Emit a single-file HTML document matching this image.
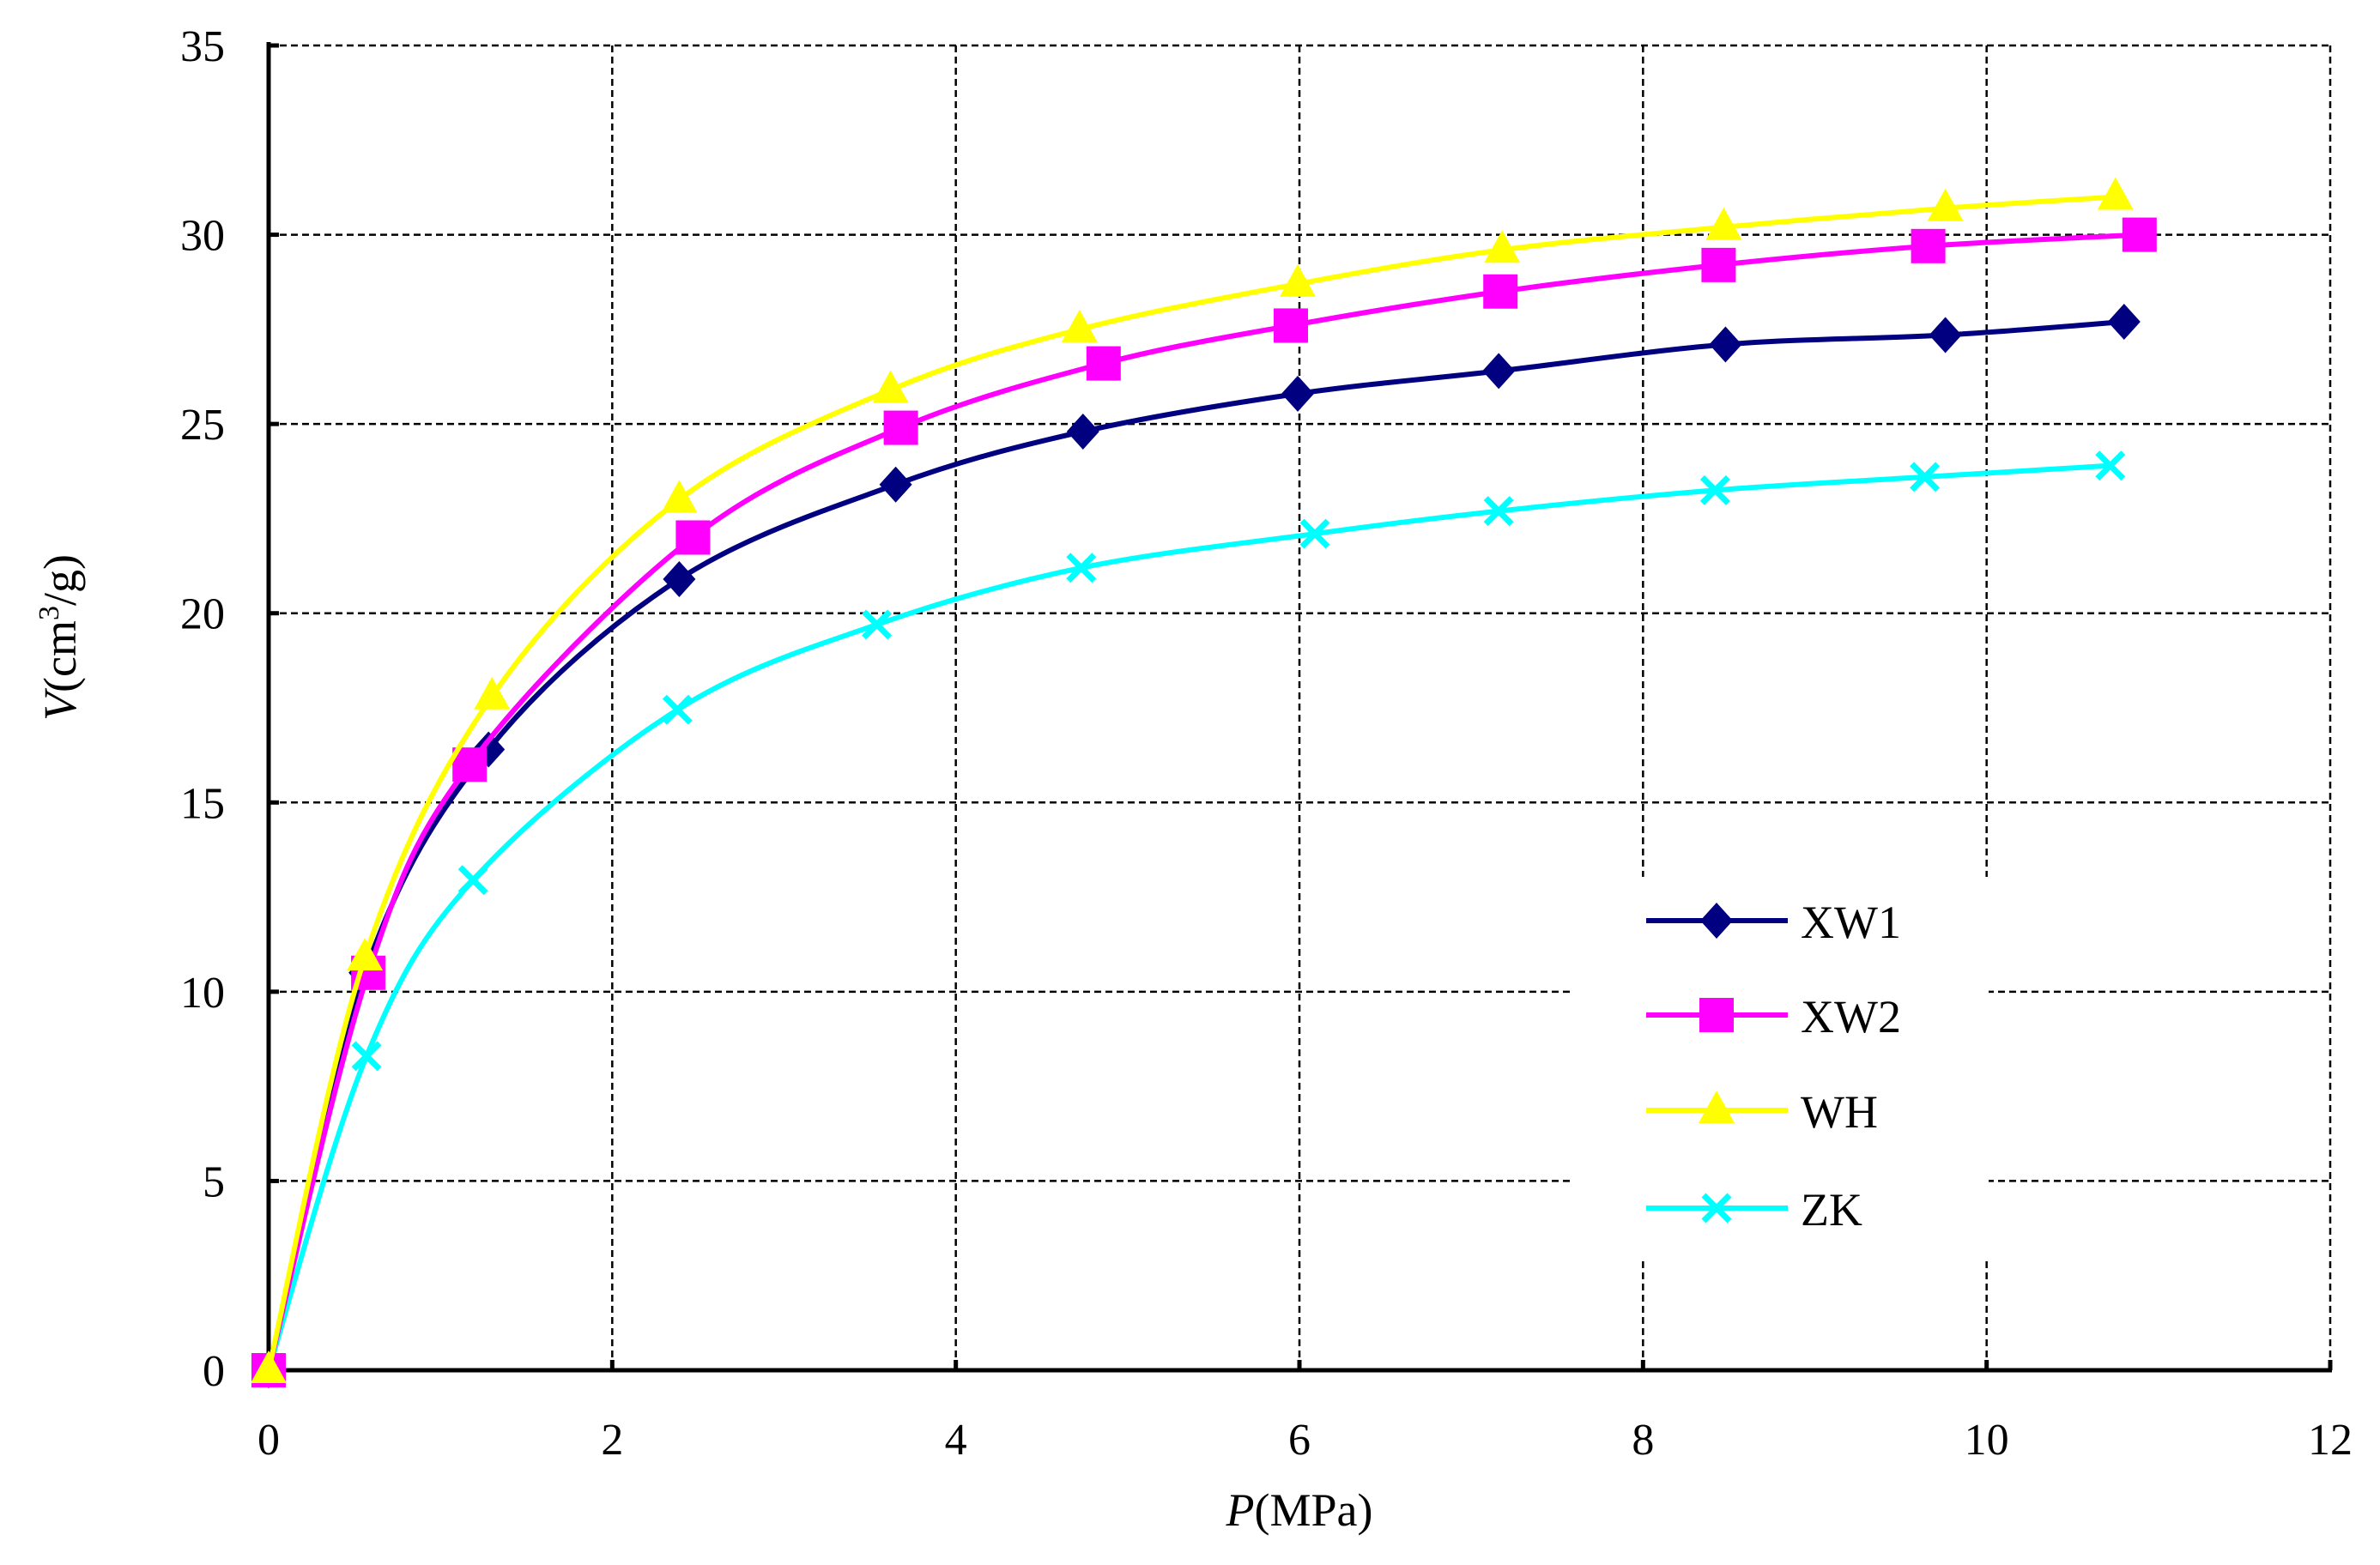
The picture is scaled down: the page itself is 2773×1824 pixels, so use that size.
<!DOCTYPE html>
<html><head><meta charset="utf-8"><style>
html,body{margin:0;padding:0;background:#fff}
svg{display:block}
text{font-family:"Liberation Serif",serif;fill:#000}
</style></head><body>
<svg id="chart" width="2773" height="1824" viewBox="0 0 2773 1824" xmlns="http://www.w3.org/2000/svg"></svg>
<script>
const xTicks=[0,2,4,6,8,10,12];
const yTicks=[0,5,10,15,20,25,30,35];
const seriesNames=["XW1","XW2","WH","ZK"];
const seriesColors=["#000080","#ff00ff","#ffff00","#00ffff"];
const xw1P=[0,0.56,1.28,2.39,3.65,4.74,5.99,7.16,8.48,9.76,10.8];
const xw1V=[0,10.5,16.4,20.9,23.4,24.8,25.8,26.4,27.1,27.35,27.7];
const xw2P=[0,0.58,1.17,2.47,3.68,4.86,5.95,7.17,8.44,9.66,10.89];
const xw2V=[0,10.5,16.0,22.0,24.9,26.6,27.6,28.5,29.2,29.7,30.0];
const whP=[0,0.56,1.3,2.39,3.62,4.72,5.99,7.18,8.47,9.76,10.75];
const whV=[0,10.9,17.8,23.0,25.9,27.5,28.7,29.6,30.2,30.7,31.0];
const zkP=[0,0.57,1.19,2.38,3.54,4.73,6.09,7.16,8.42,9.64,10.72];
const zkV=[0,8.3,12.95,17.45,19.7,21.2,22.1,22.7,23.25,23.6,23.9];

const X0=313,X1=2715,Y0=1597,Y1=53;
function sx(v){return X0+(X1-X0)*v/12;}
function sy(v){return Y0-(Y0-Y1)*v/35;}
const NS="http://www.w3.org/2000/svg";
const svg=document.getElementById('chart');
function mk(tag,attrs,parent){const e=document.createElementNS(NS,tag);for(const k in attrs)e.setAttribute(k,attrs[k]);(parent||svg).appendChild(e);return e;}

xTicks.forEach(t=>{if(t===0)return;
 const l=mk('line',{x1:sx(t),x2:sx(t),y1:Y1,y2:Y0,stroke:'#000','stroke-width':2.5,'stroke-dasharray':'8,5'});
 
 });
yTicks.forEach(t=>{if(t===0)return;
 const l=mk('line',{x1:X0,x2:X1,y1:sy(t),y2:sy(t),stroke:'#000','stroke-width':2.5,'stroke-dasharray':'8,5'});
 
 });
let ax=mk('line',{x1:X0,x2:X0,y1:Y1-4,y2:Y0+2,stroke:'#000','stroke-width':5});


ax=mk('line',{x1:X0-2,x2:X1+2,y1:Y0,y2:Y0,stroke:'#000','stroke-width':5});


xTicks.forEach(t=>{
 const k=mk('line',{x1:sx(t),x2:sx(t),y1:Y0,y2:Y0-12,stroke:'#000','stroke-width':5});
 
 
 const tx=mk('text',{x:sx(t),y:1695,'font-size':52,'text-anchor':'middle'});tx.textContent=t;
 
 });
yTicks.forEach(t=>{
 const k=mk('line',{x1:X0,x2:X0+12,y1:sy(t),y2:sy(t),stroke:'#000','stroke-width':5});
 
 
 const tx=mk('text',{x:262,y:sy(t)+18,'font-size':52,'text-anchor':'end'});tx.textContent=t;
 
 });
let xt=mk('text',{x:1514,y:1778,'font-size':54,'text-anchor':'middle'});
xt.innerHTML='<tspan font-style="italic">P</tspan>(MPa)';


let yt=mk('text',{x:0,y:0,'font-size':54,'text-anchor':'middle',transform:'translate(88,743) rotate(-90)'});
yt.innerHTML='<tspan font-style="italic">V</tspan>(cm<tspan font-size="34" dy="-20">3</tspan><tspan dy="20">/g)</tspan>';



function smoothPath(pts){
 let d='M'+pts[0][0]+','+pts[0][1];
 for(let i=0;i<pts.length-1;i++){
  const p0=pts[i-1]||pts[i],p1=pts[i],p2=pts[i+1],p3=pts[i+2]||p2;
  const c1=[p1[0]+(p2[0]-p0[0])/6,p1[1]+(p2[1]-p0[1])/6];
  const c2=[p2[0]-(p3[0]-p1[0])/6,p2[1]-(p3[1]-p1[1])/6];
  d+=' C'+c1+' '+c2+' '+p2;
 }
 return d;
}
function marker(kind,x,y,color,g){
 let m;
 if(kind===0) m=mk('polygon',{points:`${x},${y-21} ${x+19},${y} ${x},${y+21} ${x-19},${y}`,fill:color},g);
 else if(kind===1) m=mk('rect',{x:x-20,y:y-20,width:40,height:40,fill:color},g);
 else if(kind===2) m=mk('polygon',{points:`${x},${y-23} ${x+21},${y+15} ${x-21},${y+15}`,fill:color},g);
 else {m=mk('path',{d:`M${x-15},${y-15}L${x+15},${y+15}M${x+15},${y-15}L${x-15},${y+15}`,stroke:color,'stroke-width':7,fill:'none'},g);}
 return m;
}
const allP=[xw1P,xw2P,whP,zkP], allV=[xw1V,xw2V,whV,zkV];
[3,0,1,2].forEach(s=>{
 const g=mk('g',{});
 
 
 const pts=allP[s].map((p,i)=>[sx(p),sy(allV[s][i])]);
 const line=mk('path',{d:smoothPath(pts),stroke:seriesColors[s],'stroke-width':6,fill:'none'},g);
 
 
 pts.forEach(p=>{const m=marker(s,p[0],p[1],seriesColors[s],g);
  
  });
});
const lg=mk('g',{});


mk('rect',{x:1834,y:1022,width:483,height:446,fill:'#fff'},lg);
const legY=[1073,1183,1294,1408];
seriesNames.forEach((n,i)=>{
 const e=mk('g',{},lg);
 
 
 mk('line',{x1:1918,x2:2083,y1:legY[i],y2:legY[i],stroke:seriesColors[i],'stroke-width':6},e);
 marker(i,2000,legY[i],seriesColors[i],e);
 const t=mk('text',{x:2098,y:legY[i]+20,'font-size':54},e);t.textContent=n;
});
</script>
</body></html>
